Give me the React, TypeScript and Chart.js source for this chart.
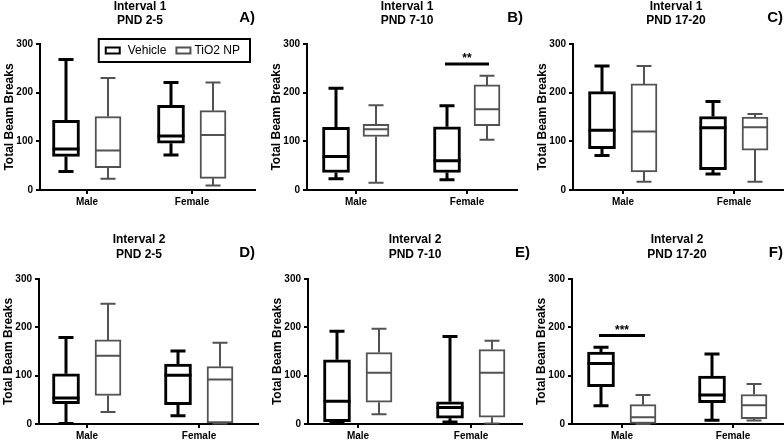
import React, { useEffect, useRef } from 'react';
import { Chart, registerables } from 'chart.js';

Chart.register(...registerables);

const FONT = "'Liberation Sans', Arial, Helvetica, sans-serif";
Chart.defaults.font.family = FONT;
Chart.defaults.color = '#000';

// ---------- data ----------
const CATEGORIES = ['Male', 'Female'];
const SERIES = ['Vehicle', 'TiO2 NP'];
const Y_TICKS = [0, 100, 200, 300];
const Y_TITLE = 'Total Beam Breaks';

// five-number summaries [min, q1, median, q3, max] for [Male, Female]
const aVehicle = [[38, 69, 84, 143, 268], [72, 96, 111, 174, 221]];
const aTiO2 = [[23, 46, 81, 151, 230], [9, 24, 113, 163, 221]];

const bVehicle = [[23, 36, 69, 129, 209], [21, 36, 60, 130, 173]];
const bTiO2 = [[15, 110, 125, 135, 174], [103, 132, 166, 216, 235]];

const cVehicle = [[71, 85, 123, 202, 255], [33, 42, 128, 151, 182]];
const cTiO2 = [[17, 37, 120, 218, 255], [17, 82, 129, 150, 156]];

const dVehicle = [[1, 42, 54, 104, 179], [17, 40, 101, 124, 151]];
const dTiO2 = [[25, 59, 141, 174, 249], [1, 2, 92, 119, 168]];

const eVehicle = [[1, 5, 47, 133, 192], [4, 12, 34, 46, 181]];
const eTiO2 = [[20, 45, 106, 148, 197], [1, 14, 106, 154, 172]];

const fVehicle = [[38, 77, 125, 149, 159], [8, 44, 60, 99, 145]];
const fTiO2 = [[0, 1, 14, 40, 60], [7, 11, 39, 61, 83]];

// significance bars: category index (1 = Male, 2 = Female), level, label
const sigB = { cat: 2, value: 259, label: '**' };
const sigF = { cat: 1, value: 183, label: '***' };

const VEHICLE_COLOR = '#000000';
const TIO2_COLOR = '#525252';

type Sig = { cat: number; value: number; label: string };
type Panel = {
  title: string[];
  letter: string;
  vehicle: number[][];
  tio2: number[][];
  sig?: Sig;
  legend?: boolean;
  canvas: { x: number; y: number; w: number; h: number };
  l: number; r: number; t: number; b: number;
  m: number; f: number; d: number;
  titleX: number; titleY: number[]; letterRight: number; letterY: number;
};

const ROW1 = { y: 0, h: 220 };
const ROW2 = { y: 220, h: 221 };
const COL1 = { x: 0, w: 262 };
const COL2 = { x: 262, w: 272 };
const COL3 = { x: 530, w: 254 };

const PANELS: Panel[] = [
  {
    title: ['Interval 1', 'PND 2-5'], letter: 'A)', vehicle: aVehicle, tio2: aTiO2, legend: true,
    canvas: { x: COL1.x, w: COL1.w, y: ROW1.y, h: ROW1.h },
    l: 40, r: 255, t: 44, b: 190, m: 87, f: 192, d: 21,
    titleX: 140, titleY: [7, 21], letterRight: 255, letterY: 18,
  },
  {
    title: ['Interval 1', 'PND 7-10'], letter: 'B)', vehicle: bVehicle, tio2: bTiO2, sig: sigB,
    canvas: { x: COL2.x, w: COL2.w, y: ROW1.y, h: ROW1.h },
    l: 307, r: 517, t: 44, b: 190, m: 356, f: 467, d: 20,
    titleX: 407, titleY: [7, 21], letterRight: 523, letterY: 18,
  },
  {
    title: ['Interval 1', 'PND 17-20'], letter: 'C)', vehicle: cVehicle, tio2: cTiO2,
    canvas: { x: COL3.x, w: COL3.w, y: ROW1.y, h: ROW1.h },
    l: 573, r: 784, t: 44, b: 190, m: 623, f: 734, d: 21,
    titleX: 676, titleY: [7, 21], letterRight: 783, letterY: 18,
  },
  {
    title: ['Interval 2', 'PND 2-5'], letter: 'D)', vehicle: dVehicle, tio2: dTiO2,
    canvas: { x: COL1.x, w: COL1.w, y: ROW2.y, h: ROW2.h },
    l: 39, r: 258, t: 279, b: 424, m: 87, f: 199, d: 21,
    titleX: 139, titleY: [240, 255], letterRight: 255, letterY: 253,
  },
  {
    title: ['Interval 2', 'PND 7-10'], letter: 'E)', vehicle: eVehicle, tio2: eTiO2,
    canvas: { x: COL2.x, w: COL2.w, y: ROW2.y, h: ROW2.h },
    l: 308, r: 522, t: 279, b: 424, m: 358, f: 471, d: 21,
    titleX: 415, titleY: [240, 255], letterRight: 530, letterY: 253,
  },
  {
    title: ['Interval 2', 'PND 17-20'], letter: 'F)', vehicle: fVehicle, tio2: fTiO2, sig: sigF,
    canvas: { x: COL3.x, w: COL3.w, y: ROW2.y, h: ROW2.h },
    l: 572, r: 784, t: 279, b: 424, m: 622, f: 733, d: 21,
    titleX: 677, titleY: [240, 255], letterRight: 783, letterY: 253,
  },
];

const Y_AXIS_W = 38;
const X_AXIS_H = 16;

function makeDecor(p: Panel) {
  const cx = p.canvas.x;
  const cy = p.canvas.y;
  return {
    id: 'decor',
    afterDatasetsDraw(chart: any) {
      const ctx = chart.ctx as CanvasRenderingContext2D;
      const ys = chart.scales.y;
      const sets = [p.vehicle, p.tio2];
      const colors = [VEHICLE_COLOR, TIO2_COLOR];
      const widths = [3, 2];
      ctx.save();
      sets.forEach((stats, di) => {
        const meta = chart.getDatasetMeta(di);
        meta.data.forEach((el: any, j: number) => {
          const s = stats[j];
          const x = el.x;
          const w = el.width;
          const capW = 15;
          const yMin = ys.getPixelForValue(s[0]);
          const yQ1 = ys.getPixelForValue(s[1]);
          const yMed = ys.getPixelForValue(s[2]);
          const yQ3 = ys.getPixelForValue(s[3]);
          const yMax = ys.getPixelForValue(s[4]);
          ctx.strokeStyle = colors[di];
          ctx.lineWidth = widths[di];
          ctx.lineCap = 'butt';
          ctx.beginPath();
          ctx.moveTo(x, yQ3); ctx.lineTo(x, yMax);
          ctx.moveTo(x - capW / 2, yMax); ctx.lineTo(x + capW / 2, yMax);
          ctx.moveTo(x, yQ1); ctx.lineTo(x, yMin);
          ctx.moveTo(x - capW / 2, yMin); ctx.lineTo(x + capW / 2, yMin);
          ctx.moveTo(x - w / 2, yMed); ctx.lineTo(x + w / 2, yMed);
          ctx.stroke();
        });
      });
      if (p.sig) {
        const v = chart.getDatasetMeta(0).data[p.sig.cat - 1] as any;
        const t = chart.getDatasetMeta(1).data[p.sig.cat - 1] as any;
        const y = ys.getPixelForValue(p.sig.value);
        ctx.strokeStyle = '#000';
        ctx.lineWidth = 3;
        ctx.beginPath();
        ctx.moveTo(v.x - 2, y); ctx.lineTo(t.x + 2, y);
        ctx.stroke();
        ctx.fillStyle = '#000';
        ctx.font = `bold 12px ${FONT}`;
        ctx.textAlign = 'center';
        ctx.textBaseline = 'alphabetic';
        ctx.fillText(p.sig.label, (v.x + t.x) / 2, y - 2);
      }
      ctx.restore();
    },
    afterDraw(chart: any) {
      const ctx = chart.ctx as CanvasRenderingContext2D;
      ctx.save();
      ctx.fillStyle = '#000';
      ctx.textAlign = 'center';
      ctx.textBaseline = 'middle';
      ctx.font = `bold 12px ${FONT}`;
      p.title.forEach((line, i) => ctx.fillText(line, p.titleX - cx, p.titleY[i] - cy));
      ctx.font = `bold 15px ${FONT}`;
      ctx.textAlign = 'right';
      ctx.fillText(p.letter, p.letterRight - cx, p.letterY - cy);
      if (p.legend) {
        const area = chart.chartArea;
        ctx.font = `12px ${FONT}`;
        const w1 = ctx.measureText(SERIES[0]).width;
        const w2 = ctx.measureText(SERIES[1]).width;
        const sw = 14;
        const total = 7 + sw + 8 + w1 + 10 + sw + 4 + w2 + 10;
        const right = area.right - 5;
        const top = area.top - 5;
        const h = 23;
        const left = right - total;
        ctx.fillStyle = '#fff';
        ctx.fillRect(left, top, total, h);
        ctx.strokeStyle = '#000';
        ctx.lineWidth = 2;
        ctx.strokeRect(left, top, total, h);
        const my = top + h / 2;
        let x = left + 7;
        ctx.strokeStyle = VEHICLE_COLOR;
        ctx.strokeRect(x, my - 3, sw, 6);
        x += sw + 8;
        ctx.fillStyle = '#000';
        ctx.textAlign = 'left';
        ctx.fillText(SERIES[0], x, my);
        x += w1 + 10;
        ctx.strokeStyle = TIO2_COLOR;
        ctx.strokeRect(x, my - 3, sw, 6);
        x += sw + 4;
        ctx.fillText(SERIES[1], x, my);
      }
      ctx.restore();
    },
  };
}

function PanelChart({ panel }: { panel: Panel }) {
  const ref = useRef<HTMLCanvasElement | null>(null);
  useEffect(() => {
    const p = panel;
    const canvas = ref.current!;
    const cx = p.canvas.x;
    const cy = p.canvas.y;
    const u = p.f - p.m;
    const xMin = 1 - (p.m - p.l) / u;
    const xMax = 2 + (p.r - p.f) / u;
    const off = p.d / u;
    const tickFont = { family: FONT, size: 10, weight: 'bold' as const };
    const axisCommon = {
      grid: { drawOnChartArea: false, drawTicks: true, tickLength: 4, lineWidth: 2, color: '#000', offset: false },
      border: { display: true, color: '#000', width: 2 },
    };
    const chart = new Chart(canvas, {
      type: 'bar',
      data: {
        datasets: [
          {
            label: SERIES[0],
            data: p.vehicle.map((s, i) => ({ x: i + 1 - off, y: [s[1], s[3]] })) as any,
            backgroundColor: '#fff',
            borderColor: VEHICLE_COLOR,
            borderWidth: 3,
            borderSkipped: false,
            barThickness: 27,
            grouped: false,
          },
          {
            label: SERIES[1],
            data: p.tio2.map((s, i) => ({ x: i + 1 + off, y: [s[1], s[3]] })) as any,
            backgroundColor: '#fff',
            borderColor: TIO2_COLOR,
            borderWidth: 2,
            borderSkipped: false,
            barThickness: 26,
            grouped: false,
          },
        ],
      },
      options: {
        responsive: false,
        animation: false,
        events: [],
        layout: {
          padding: {
            left: p.l - cx - Y_AXIS_W,
            right: p.canvas.w - (p.r - cx),
            top: p.t - cy,
            bottom: Math.max(0, p.canvas.h - (p.b - cy) - X_AXIS_H),
          },
        },
        plugins: { legend: { display: false }, tooltip: { enabled: false }, title: { display: false } },
        scales: {
          x: {
            type: 'linear',
            min: xMin,
            max: xMax,
            offset: false,
            afterBuildTicks: (s: any) => { s.ticks = CATEGORIES.map((_, i) => ({ value: i + 1 })); },
            afterFit: (s: any) => { s.height = X_AXIS_H; },
            ticks: {
              callback: (v: any) => CATEGORIES[Math.round(Number(v)) - 1] ?? '',
              font: tickFont, color: '#000', padding: 2, maxRotation: 0, autoSkip: false,
            },
            ...axisCommon,
          },
          y: {
            type: 'linear',
            min: 0,
            max: 300,
            afterBuildTicks: (s: any) => { s.ticks = Y_TICKS.map((v) => ({ value: v })); },
            afterFit: (s: any) => { s.width = Y_AXIS_W; },
            ticks: { font: tickFont, color: '#000', padding: 3 },
            title: { display: true, text: Y_TITLE, font: { family: FONT, size: 12, weight: 'bold' }, color: '#000', padding: 0 },
            ...axisCommon,
          },
        },
      } as any,
      plugins: [makeDecor(p)],
    });
    return () => chart.destroy();
  }, [panel]);
  const c = panel.canvas;
  return (
    <canvas
      ref={ref}
      width={c.w}
      height={c.h}
      style={{ position: 'absolute', left: c.x, top: c.y, width: c.w, height: c.h }}
    />
  );
}

export default function App() {
  return (
    <div style={{ position: 'fixed', left: 0, top: 0, width: 784, height: 441, background: '#fff', overflow: 'hidden' }}>
      {PANELS.map((p, i) => (
        <PanelChart key={i} panel={p} />
      ))}
    </div>
  );
}
